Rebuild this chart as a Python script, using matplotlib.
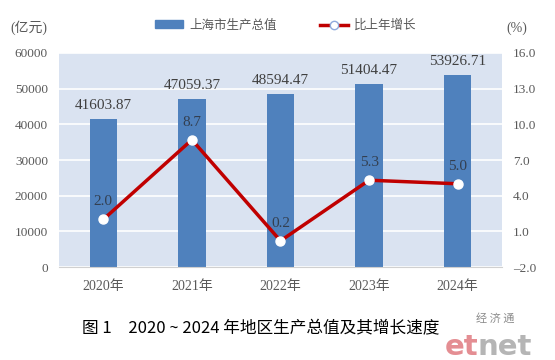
import matplotlib
matplotlib.use("Agg")
import matplotlib.pyplot as plt
from matplotlib.lines import Line2D
from matplotlib.patches import Patch

years = ["2020年", "2021年", "2022年", "2023年", "2024年"]
gdp = [41603.87, 47059.37, 48594.47, 51404.47, 53926.71]
growth = [2.0, 8.7, 0.2, 5.3, 5.0]

serif = ["Liberation Serif", "Noto Sans CJK SC"]
sans = ["Noto Sans CJK SC", "DejaVu Sans"]
plt.rcParams["font.family"] = serif

grey = "#595959"
bar_color = "#4F81BD"
line_color = "#C00000"

fig = plt.figure(figsize=(5.55, 3.6), dpi=100)
ax = fig.add_axes([0.1063, 0.2583, 0.7982, 0.5945])
ax.set_facecolor("#DAE3F1")

x = range(len(years))
bars = ax.bar(x, gdp, width=0.31, color=bar_color, zorder=2)
ax.set_ylim(0, 60000)
ax.set_yticks(range(0, 60001, 10000))
ax.set_xlim(-0.5, len(years) - 0.5)
ax.set_xticks(list(x))
ax.set_xticklabels(years)
ax.grid(axis="y", color="white", linewidth=1.2, zorder=1)
ax.set_axisbelow(True)
for s in ["top", "left", "right"]:
    ax.spines[s].set_visible(False)
ax.spines["bottom"].set_color("#D0D0D0")
ax.tick_params(axis="y", length=0, pad=8, labelsize=9.5, labelcolor=grey)
ax.tick_params(axis="x", length=0, pad=9, labelsize=10, labelcolor=grey)

# bar value labels
for xi, v in zip(x, gdp):
    ax.annotate(f"{v:.2f}", (xi, v), xytext=(0, 5), textcoords="offset points",
                ha="center", va="bottom", fontsize=11, color="#404040")

ax2 = ax.twinx()
ax2.set_ylim(-2, 16)
ticks2 = [-2, 1, 4, 7, 10, 13, 16]
ax2.set_yticks(ticks2)
ax2.set_yticklabels([f"{t:.1f}".replace("-", "\u2013") for t in ticks2])
for s in ax2.spines.values():
    s.set_visible(False)
ax2.tick_params(axis="y", length=0, pad=8, labelsize=9.5, labelcolor=grey)
ax2.plot(list(x), growth, color=line_color, linewidth=2.5, marker="o",
         markersize=6.5, markerfacecolor="white", markeredgecolor="white", zorder=3)
for xi, v in zip(x, growth):
    ax2.annotate(f"{v:.1f}", (xi, v), xytext=(0, 8), textcoords="offset points",
                 ha="center", va="bottom", fontsize=11, color="#333F50")

fig.text(0.018, 0.922, "(亿元)", fontsize=10, color=grey, va="center", ha="left")
fig.text(0.912, 0.922, "(%)", fontsize=10, color=grey, va="center", ha="left")

handles = [Patch(facecolor=bar_color, edgecolor=bar_color),
           Line2D([0], [0], color=line_color, linewidth=2.5, marker="o", markersize=6,
                  markerfacecolor="white", markeredgecolor="#8FAADC")]
fig.legend(handles, ["上海市生产总值", "比上年增长"], loc="center", ncol=2,
           bbox_to_anchor=(0.515, 0.93), frameon=False, handlelength=2.2,
           handleheight=0.6, columnspacing=3.5, handletextpad=0.5,
           prop={"family": sans, "size": 9}, labelcolor=grey)

# caption and watermark
fig.text(0.47, 0.088, "图 1　2020 ~ 2024 年地区生产总值及其增长速度", family=sans,
         fontsize=12, fontweight="medium", ha="center", va="center", color="black")
fig.text(0.892, 0.115, "经 济 通", family=sans, fontsize=8, color="#8C8C8C",
         ha="center", va="center")
fig.text(0.862, 0.035, "et", family=["DejaVu Sans"], fontsize=21, fontweight="bold",
         color="#E07A80", ha="right", va="center", alpha=0.85)
fig.text(0.86, 0.035, "net", family=["DejaVu Sans"], fontsize=21, fontweight="bold",
         color="#A8A8A8", ha="left", va="center", alpha=0.85)

fig.savefig("out.png", dpi=100)
